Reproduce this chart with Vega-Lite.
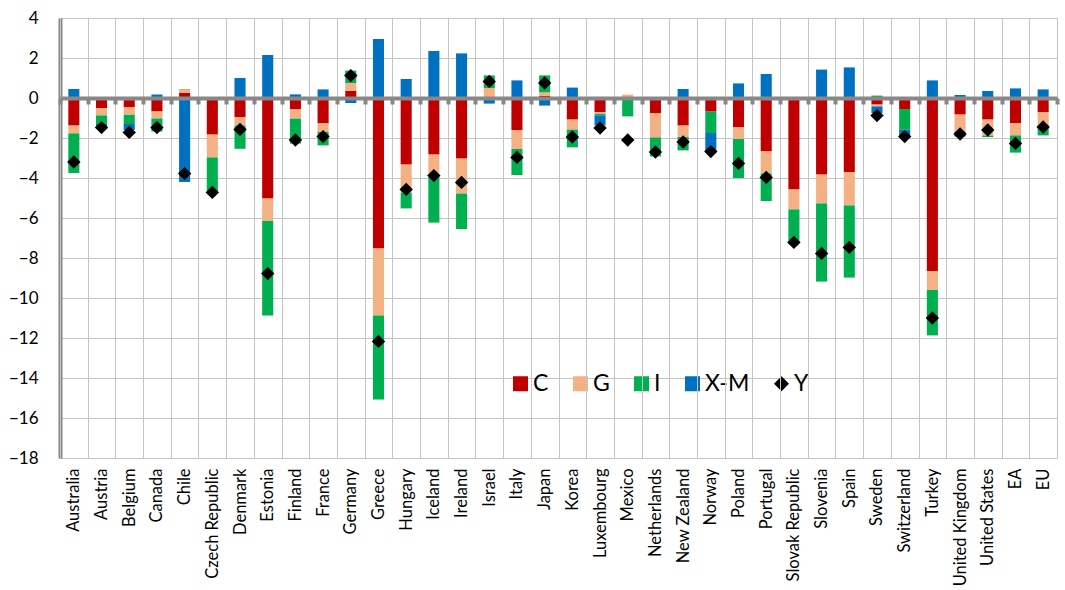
{
  "$schema": "https://vega.github.io/schema/vega-lite/v6.json",
  "autosize": {"type": "none"},
  "width": 997,
  "height": 440,
  "padding": {"left": 60, "top": 18, "right": 8, "bottom": 132},
  "background": "white",
  "config": {
    "font": "Lato",
    "view": {"stroke": "#c4c4c4", "strokeWidth": 1}
  },
  "data": {"values": [
    {"country": "Australia", "series": "C", "value": -1.38},
    {"country": "Australia", "series": "G", "value": -0.39},
    {"country": "Australia", "series": "I", "value": -1.98},
    {"country": "Australia", "series": "X-M", "value": 0.45},
    {"country": "Australia", "series": "Y", "value": -3.2},
    {"country": "Austria", "series": "C", "value": -0.5},
    {"country": "Austria", "series": "G", "value": -0.37},
    {"country": "Austria", "series": "I", "value": -0.43},
    {"country": "Austria", "series": "X-M", "value": -0.1},
    {"country": "Austria", "series": "Y", "value": -1.48},
    {"country": "Belgium", "series": "C", "value": -0.47},
    {"country": "Belgium", "series": "G", "value": -0.37},
    {"country": "Belgium", "series": "I", "value": -0.46},
    {"country": "Belgium", "series": "X-M", "value": -0.3},
    {"country": "Belgium", "series": "Y", "value": -1.72},
    {"country": "Canada", "series": "C", "value": -0.67},
    {"country": "Canada", "series": "G", "value": -0.36},
    {"country": "Canada", "series": "I", "value": -0.64},
    {"country": "Canada", "series": "X-M", "value": 0.18},
    {"country": "Canada", "series": "Y", "value": -1.48},
    {"country": "Chile", "series": "C", "value": 0.25},
    {"country": "Chile", "series": "G", "value": 0.18},
    {"country": "Chile", "series": "I", "value": 0.02},
    {"country": "Chile", "series": "X-M", "value": -4.2},
    {"country": "Chile", "series": "Y", "value": -3.78},
    {"country": "Czech Republic", "series": "C", "value": -1.83},
    {"country": "Czech Republic", "series": "G", "value": -1.14},
    {"country": "Czech Republic", "series": "I", "value": -1.78},
    {"country": "Czech Republic", "series": "Y", "value": -4.72},
    {"country": "Denmark", "series": "C", "value": -0.96},
    {"country": "Denmark", "series": "G", "value": -0.42},
    {"country": "Denmark", "series": "I", "value": -1.16},
    {"country": "Denmark", "series": "X-M", "value": 1.0},
    {"country": "Denmark", "series": "Y", "value": -1.57},
    {"country": "Estonia", "series": "C", "value": -5.03},
    {"country": "Estonia", "series": "G", "value": -1.12},
    {"country": "Estonia", "series": "I", "value": -4.72},
    {"country": "Estonia", "series": "X-M", "value": 2.15},
    {"country": "Estonia", "series": "Y", "value": -8.78},
    {"country": "Finland", "series": "C", "value": -0.55},
    {"country": "Finland", "series": "G", "value": -0.48},
    {"country": "Finland", "series": "I", "value": -1.25},
    {"country": "Finland", "series": "X-M", "value": 0.18},
    {"country": "Finland", "series": "Y", "value": -2.1},
    {"country": "France", "series": "C", "value": -1.27},
    {"country": "France", "series": "G", "value": -0.43},
    {"country": "France", "series": "I", "value": -0.67},
    {"country": "France", "series": "X-M", "value": 0.43},
    {"country": "France", "series": "Y", "value": -1.93},
    {"country": "Germany", "series": "C", "value": 0.36},
    {"country": "Germany", "series": "G", "value": 0.39},
    {"country": "Germany", "series": "I", "value": 0.62},
    {"country": "Germany", "series": "X-M", "value": -0.25},
    {"country": "Germany", "series": "Y", "value": 1.12},
    {"country": "Greece", "series": "C", "value": -7.53},
    {"country": "Greece", "series": "G", "value": -3.34},
    {"country": "Greece", "series": "I", "value": -4.21},
    {"country": "Greece", "series": "X-M", "value": 2.95},
    {"country": "Greece", "series": "Y", "value": -12.17},
    {"country": "Hungary", "series": "C", "value": -3.33},
    {"country": "Hungary", "series": "G", "value": -1.4},
    {"country": "Hungary", "series": "I", "value": -0.79},
    {"country": "Hungary", "series": "X-M", "value": 0.95},
    {"country": "Hungary", "series": "Y", "value": -4.57},
    {"country": "Iceland", "series": "C", "value": -2.83},
    {"country": "Iceland", "series": "G", "value": -1.05},
    {"country": "Iceland", "series": "I", "value": -2.35},
    {"country": "Iceland", "series": "X-M", "value": 2.35},
    {"country": "Iceland", "series": "Y", "value": -3.88},
    {"country": "Ireland", "series": "C", "value": -3.03},
    {"country": "Ireland", "series": "G", "value": -1.75},
    {"country": "Ireland", "series": "I", "value": -1.77},
    {"country": "Ireland", "series": "X-M", "value": 2.23},
    {"country": "Ireland", "series": "Y", "value": -4.22},
    {"country": "Israel", "series": "C", "value": 0.03},
    {"country": "Israel", "series": "G", "value": 0.47},
    {"country": "Israel", "series": "I", "value": 0.63},
    {"country": "Israel", "series": "X-M", "value": -0.28},
    {"country": "Israel", "series": "Y", "value": 0.83},
    {"country": "Italy", "series": "C", "value": -1.6},
    {"country": "Italy", "series": "G", "value": -0.95},
    {"country": "Italy", "series": "I", "value": -1.3},
    {"country": "Italy", "series": "X-M", "value": 0.88},
    {"country": "Italy", "series": "Y", "value": -2.97},
    {"country": "Japan", "series": "C", "value": 0.1},
    {"country": "Japan", "series": "G", "value": 0.18},
    {"country": "Japan", "series": "I", "value": 0.85},
    {"country": "Japan", "series": "X-M", "value": -0.38},
    {"country": "Japan", "series": "Y", "value": 0.75},
    {"country": "Korea", "series": "C", "value": -1.08},
    {"country": "Korea", "series": "G", "value": -0.5},
    {"country": "Korea", "series": "I", "value": -0.89},
    {"country": "Korea", "series": "X-M", "value": 0.52},
    {"country": "Korea", "series": "Y", "value": -1.95},
    {"country": "Luxembourg", "series": "C", "value": -0.7},
    {"country": "Luxembourg", "series": "G", "value": -0.1},
    {"country": "Luxembourg", "series": "I", "value": -0.07},
    {"country": "Luxembourg", "series": "X-M", "value": -0.5},
    {"country": "Luxembourg", "series": "Y", "value": -1.5},
    {"country": "Mexico", "series": "G", "value": 0.17},
    {"country": "Mexico", "series": "I", "value": -0.92},
    {"country": "Mexico", "series": "Y", "value": -2.1},
    {"country": "Netherlands", "series": "C", "value": -0.77},
    {"country": "Netherlands", "series": "G", "value": -1.2},
    {"country": "Netherlands", "series": "I", "value": -0.95},
    {"country": "Netherlands", "series": "Y", "value": -2.7},
    {"country": "New Zealand", "series": "C", "value": -1.38},
    {"country": "New Zealand", "series": "G", "value": -0.57},
    {"country": "New Zealand", "series": "I", "value": -0.67},
    {"country": "New Zealand", "series": "X-M", "value": 0.45},
    {"country": "New Zealand", "series": "Y", "value": -2.2},
    {"country": "Norway", "series": "C", "value": -0.68},
    {"country": "Norway", "series": "I", "value": -1.07},
    {"country": "Norway", "series": "X-M", "value": -0.95},
    {"country": "Norway", "series": "Y", "value": -2.68},
    {"country": "Poland", "series": "C", "value": -1.45},
    {"country": "Poland", "series": "G", "value": -0.6},
    {"country": "Poland", "series": "I", "value": -1.95},
    {"country": "Poland", "series": "X-M", "value": 0.73},
    {"country": "Poland", "series": "Y", "value": -3.27},
    {"country": "Portugal", "series": "C", "value": -2.67},
    {"country": "Portugal", "series": "G", "value": -1.1},
    {"country": "Portugal", "series": "I", "value": -1.38},
    {"country": "Portugal", "series": "X-M", "value": 1.2},
    {"country": "Portugal", "series": "Y", "value": -3.97},
    {"country": "Slovak Republic", "series": "C", "value": -4.57},
    {"country": "Slovak Republic", "series": "G", "value": -1.0},
    {"country": "Slovak Republic", "series": "I", "value": -1.63},
    {"country": "Slovak Republic", "series": "Y", "value": -7.22},
    {"country": "Slovenia", "series": "C", "value": -3.83},
    {"country": "Slovenia", "series": "G", "value": -1.44},
    {"country": "Slovenia", "series": "I", "value": -3.91},
    {"country": "Slovenia", "series": "X-M", "value": 1.42},
    {"country": "Slovenia", "series": "Y", "value": -7.77},
    {"country": "Spain", "series": "C", "value": -3.7},
    {"country": "Spain", "series": "G", "value": -1.67},
    {"country": "Spain", "series": "I", "value": -3.61},
    {"country": "Spain", "series": "X-M", "value": 1.53},
    {"country": "Spain", "series": "Y", "value": -7.47},
    {"country": "Sweden", "series": "C", "value": -0.33},
    {"country": "Sweden", "series": "G", "value": -0.09},
    {"country": "Sweden", "series": "I", "value": 0.12},
    {"country": "Sweden", "series": "X-M", "value": -0.33},
    {"country": "Sweden", "series": "Y", "value": -0.88},
    {"country": "Switzerland", "series": "C", "value": -0.55},
    {"country": "Switzerland", "series": "I", "value": -1.03},
    {"country": "Switzerland", "series": "X-M", "value": -0.3},
    {"country": "Switzerland", "series": "Y", "value": -1.93},
    {"country": "Turkey", "series": "C", "value": -8.65},
    {"country": "Turkey", "series": "G", "value": -0.95},
    {"country": "Turkey", "series": "I", "value": -2.27},
    {"country": "Turkey", "series": "X-M", "value": 0.88},
    {"country": "Turkey", "series": "Y", "value": -11.0},
    {"country": "United Kingdom", "series": "C", "value": -0.83},
    {"country": "United Kingdom", "series": "G", "value": -0.85},
    {"country": "United Kingdom", "series": "I", "value": -0.25},
    {"country": "United Kingdom", "series": "X-M", "value": 0.15},
    {"country": "United Kingdom", "series": "Y", "value": -1.8},
    {"country": "United States", "series": "C", "value": -1.08},
    {"country": "United States", "series": "G", "value": -0.8},
    {"country": "United States", "series": "I", "value": -0.07},
    {"country": "United States", "series": "X-M", "value": 0.35},
    {"country": "United States", "series": "Y", "value": -1.6},
    {"country": "EA", "series": "C", "value": -1.25},
    {"country": "EA", "series": "G", "value": -0.62},
    {"country": "EA", "series": "I", "value": -0.86},
    {"country": "EA", "series": "X-M", "value": 0.48},
    {"country": "EA", "series": "Y", "value": -2.27},
    {"country": "EU", "series": "C", "value": -0.72},
    {"country": "EU", "series": "G", "value": -0.7},
    {"country": "EU", "series": "I", "value": -0.45},
    {"country": "EU", "series": "X-M", "value": 0.43},
    {"country": "EU", "series": "Y", "value": -1.45}
  ]},
  "layer": [
    {
      "transform": [{"filter": "datum.series != 'Y'"}],
      "mark": {"type": "bar", "width": {"band": 0.4}},
      "encoding": {
        "x": {
          "field": "country", "type": "nominal", "sort": null,
          "scale": {"paddingInner": 0, "paddingOuter": 0},
          "axis": {
            "title": null, "labelAngle": -90, "labelFont": "Lato", "labelFontSize": 16.5,
            "labelColor": "#000000", "domain": true, "domainColor": "#888888", "domainWidth": 4,
            "ticks": true, "tickColor": "#888888",
            "tickWidth": 4, "tickSize": 6, "offset": -360, "tickBand": "extent", "zindex": 1,
            "grid": true, "gridColor": "#c4c4c4", "gridWidth": 1, "labelPadding": 364
          }
        },
        "y": {
          "field": "value", "type": "quantitative", "stack": "zero",
          "scale": {"domain": [-18, 4], "nice": false},
          "axis": {
            "title": null, "values": [-18, -16, -14, -12, -10, -8, -6, -4, -2, 0, 2, 4],
            "labelFont": "Lato", "labelFontSize": 17, "labelColor": "#000000",
            "domainColor": "#888888", "domainWidth": 4, "ticks": false, "labelPadding": 22,
            "labelOverlap": false, "grid": true, "gridColor": "#c4c4c4", "gridWidth": 1
          }
        },
        "color": {
          "field": "series", "type": "nominal",
          "scale": {"domain": ["C", "G", "I", "X-M", "Y"], "range": ["#C00000", "#F4B183", "#00B050", "#0070C0", "#000000"]},
          "legend": {
            "title": null, "orient": "none", "direction": "horizontal",
            "legendX": 449, "legendY": 354, "labelFontSize": 23, "labelFont": "Lato",
            "labelColor": "#000000", "symbolSize": 225, "symbolStrokeWidth": 0,
            "columnPadding": 20, "labelOffset": 1, "padding": 0, "symbolOpacity": 1
          }
        },
        "order": {"field": "series", "sort": "ascending"}
      }
    },
    {
      "transform": [{"filter": "datum.series == 'Y'"}],
      "mark": {"type": "point", "filled": true, "opacity": 1, "size": 180},
      "encoding": {
        "x": {
          "field": "country", "type": "nominal", "sort": null,
          "axis": {
            "title": null, "labelAngle": -90, "labelFont": "Lato", "labelFontSize": 16.5,
            "labelColor": "#000000", "domain": true, "domainColor": "#888888", "domainWidth": 4,
            "ticks": true, "tickColor": "#888888",
            "tickWidth": 4, "tickSize": 6, "offset": -360, "tickBand": "extent", "zindex": 1,
            "grid": true, "gridColor": "#c4c4c4", "gridWidth": 1, "labelPadding": 364
          }
        },
        "y": {
          "field": "value", "type": "quantitative",
          "axis": {
            "title": null, "values": [-18, -16, -14, -12, -10, -8, -6, -4, -2, 0, 2, 4],
            "labelFont": "Lato", "labelFontSize": 17, "labelColor": "#000000",
            "domainColor": "#888888", "domainWidth": 4, "ticks": false, "labelPadding": 22,
            "labelOverlap": false, "grid": true, "gridColor": "#c4c4c4", "gridWidth": 1
          }
        },
        "color": {"field": "series", "type": "nominal"},
        "shape": {
          "field": "series", "type": "nominal",
          "scale": {"domain": ["C", "G", "I", "X-M", "Y"], "range": ["square", "square", "square", "square", "diamond"]}
        }
      }
    }
  ]
}
